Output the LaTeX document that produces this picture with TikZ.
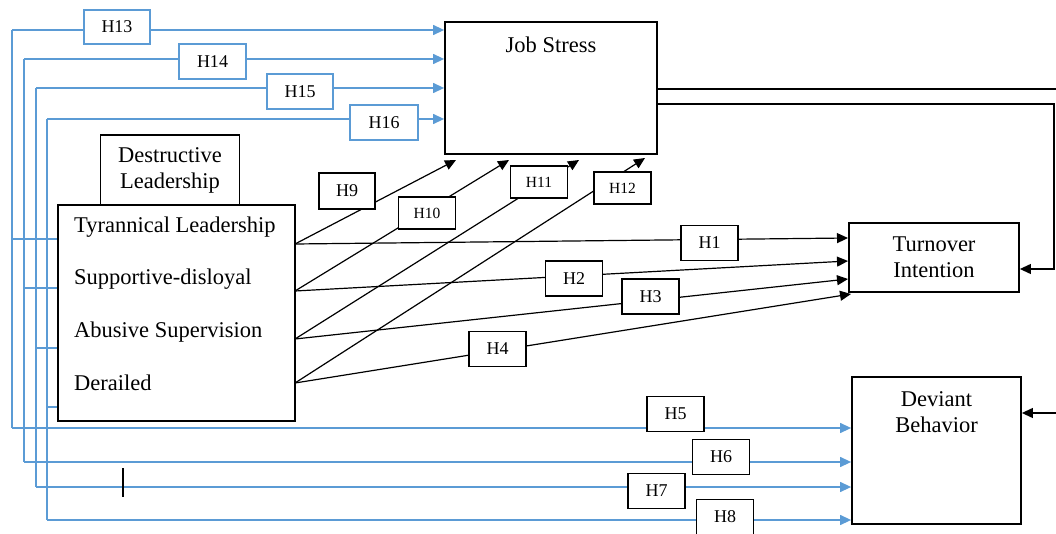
\documentclass[tikz,border=0pt]{standalone}
\usepackage{fontspec}
\setmainfont{Liberation Serif}
\usetikzlibrary{arrows.meta, positioning, calc}
\definecolor{birupanah}{RGB}{91,155,213}

\begin{document}
\begin{tikzpicture}[x=1pt, y=-1pt, font=\fontsize{22.5}{26}\selectfont,
        box/.style={draw, line width=1.8pt, fill=white, inner sep=0pt},
        hbox/.style={draw, line width=1.6pt, fill=white, inner sep=0pt, minimum width=57pt, minimum height=35pt, font=\fontsize{18}{20}\selectfont},
        hsmall/.style={hbox, minimum height=32pt, font=\fontsize{15.5}{17}\selectfont},
        hblue/.style={hbox, draw=birupanah, minimum width=67pt},
        jalur/.style={line width=1.2pt, -{Triangle[length=11pt, width=10pt]}},
        jalurbiru/.style={jalur, draw=birupanah, line width=1.3pt},
        garisbiru/.style={draw=birupanah, line width=1.3pt}]
        \useasboundingbox (0,0) rectangle (1056,534);
        \clip (0,0) rectangle (1056,534);
        % construct boxes
        \node[box, minimum width=212pt, minimum height=132pt] (js) at (551,88) {};
        \node (jst) at (551,45) {Job Stress};
        \node[box, minimum width=237pt, minimum height=216pt] (dl) at (176.5,313) {};
        \node[box, minimum width=139pt, minimum height=70pt, align=center] (dest) at (170,170) {Destructive\\Leadership};
        \node[box, minimum width=170pt, minimum height=69pt, align=center] (ti) at (934,257.5) {Turnover\\Intention};
        \node[box, minimum width=169pt, minimum height=147pt] (db) at (936.5,450.5) {};
        \node[align=center] (dbt) at (936.5,412) {Deviant\\Behavior};
        \foreach \y/\nama/\teks in {227/tl/{Tyrannical Leadership}, 279/sd/{Supportive-disloyal}, 332/as/{Abusive Supervision}, 383/dr/{Derailed}}
        {
            \node[anchor=west, inner sep=0pt] (\nama) at (74,\y) {\teks};
        }
        % ends of the paths
        \coordinate (tlo) at (295,244);
        \coordinate (sdo) at (295,291);
        \coordinate (aso) at (295,339);
        \coordinate (dro) at (295,383);
        \coordinate (js1) at (456,160);
        \coordinate (js2) at (509,160);
        \coordinate (js3) at (579,160);
        \coordinate (js4) at (645,158);
        \coordinate (ti1) at (848,238);
        \coordinate (ti2) at (848,261);
        \coordinate (ti3) at (848,279);
        \coordinate (ti4) at (851,294);
        % blue paths on the left
        \foreach \vx/\sy/\ty/\by/\n in {12/239/30/428/1, 24/288/59/462/2, 36/348/88/487/3, 47/407/119/520/4}
        {
            \coordinate (ka\n) at (\vx,\ty);
            \coordinate (kb\n) at (\vx,\by);
            \draw[garisbiru] (dl.west |- 0,\sy) -- (\vx,\sy);
            \draw[garisbiru] (ka\n) -- (kb\n);
            \draw[jalurbiru] (ka\n) -- (js.west |- ka\n);
            \draw[jalurbiru] (kb\n) -- (db.west |- kb\n);
        }
        % black paths
        \foreach \asal/\n in {tlo/1, sdo/2, aso/3, dro/4}
        {
            \draw[jalur] (\asal) -- (js\n);
            \draw[jalur] (\asal) -- (ti\n);
        }
        \coordinate (kanan1) at (1062,89);
        \coordinate (kanan2) at (1054,104);
        \draw[jalur] (js.east |- kanan1) -- (kanan1) |- (db.east |- 0,413);
        \draw[jalur] (js.east |- kanan2) -- (kanan2) |- (ti.east |- 0,269);
        \draw[line width=1.2pt] (123,468) -- (123,497);
        % hypothesis labels
        \node[hbox] (h1) at (709.5,243) {H1};
        \node[hbox] (h2) at (574,278.5) {H2};
        \node[hbox] (h3) at (650.5,296.5) {H3};
        \node[hbox] (h4) at (497.5,349) {H4};
        \node[hbox] (h5) at (675.5,414) {H5};
        \node[hbox] (h6) at (721,457) {H6};
        \node[hbox] (h7) at (656.5,491) {H7};
        \node[hbox] (h8) at (725,517) {H8};
        \node[hbox, minimum height=36pt, minimum width=56pt] (h9) at (347,191) {H9};
        \node[hsmall] (h10) at (427,213) {H10};
        \node[hsmall] (h11) at (539,182) {H11};
        \node[hsmall] (h12) at (622.5,188) {H12};
        \node[hblue, minimum width=66pt, minimum height=34pt] (h13) at (117,27) {H13};
        \node[hblue] (h14) at (212.5,61.5) {H14};
        \node[hblue, minimum width=66pt] (h15) at (300,91.5) {H15};
        \node[hblue, minimum width=68pt] (h16) at (384,122.5) {H16};
    \end{tikzpicture}
\end{document}
